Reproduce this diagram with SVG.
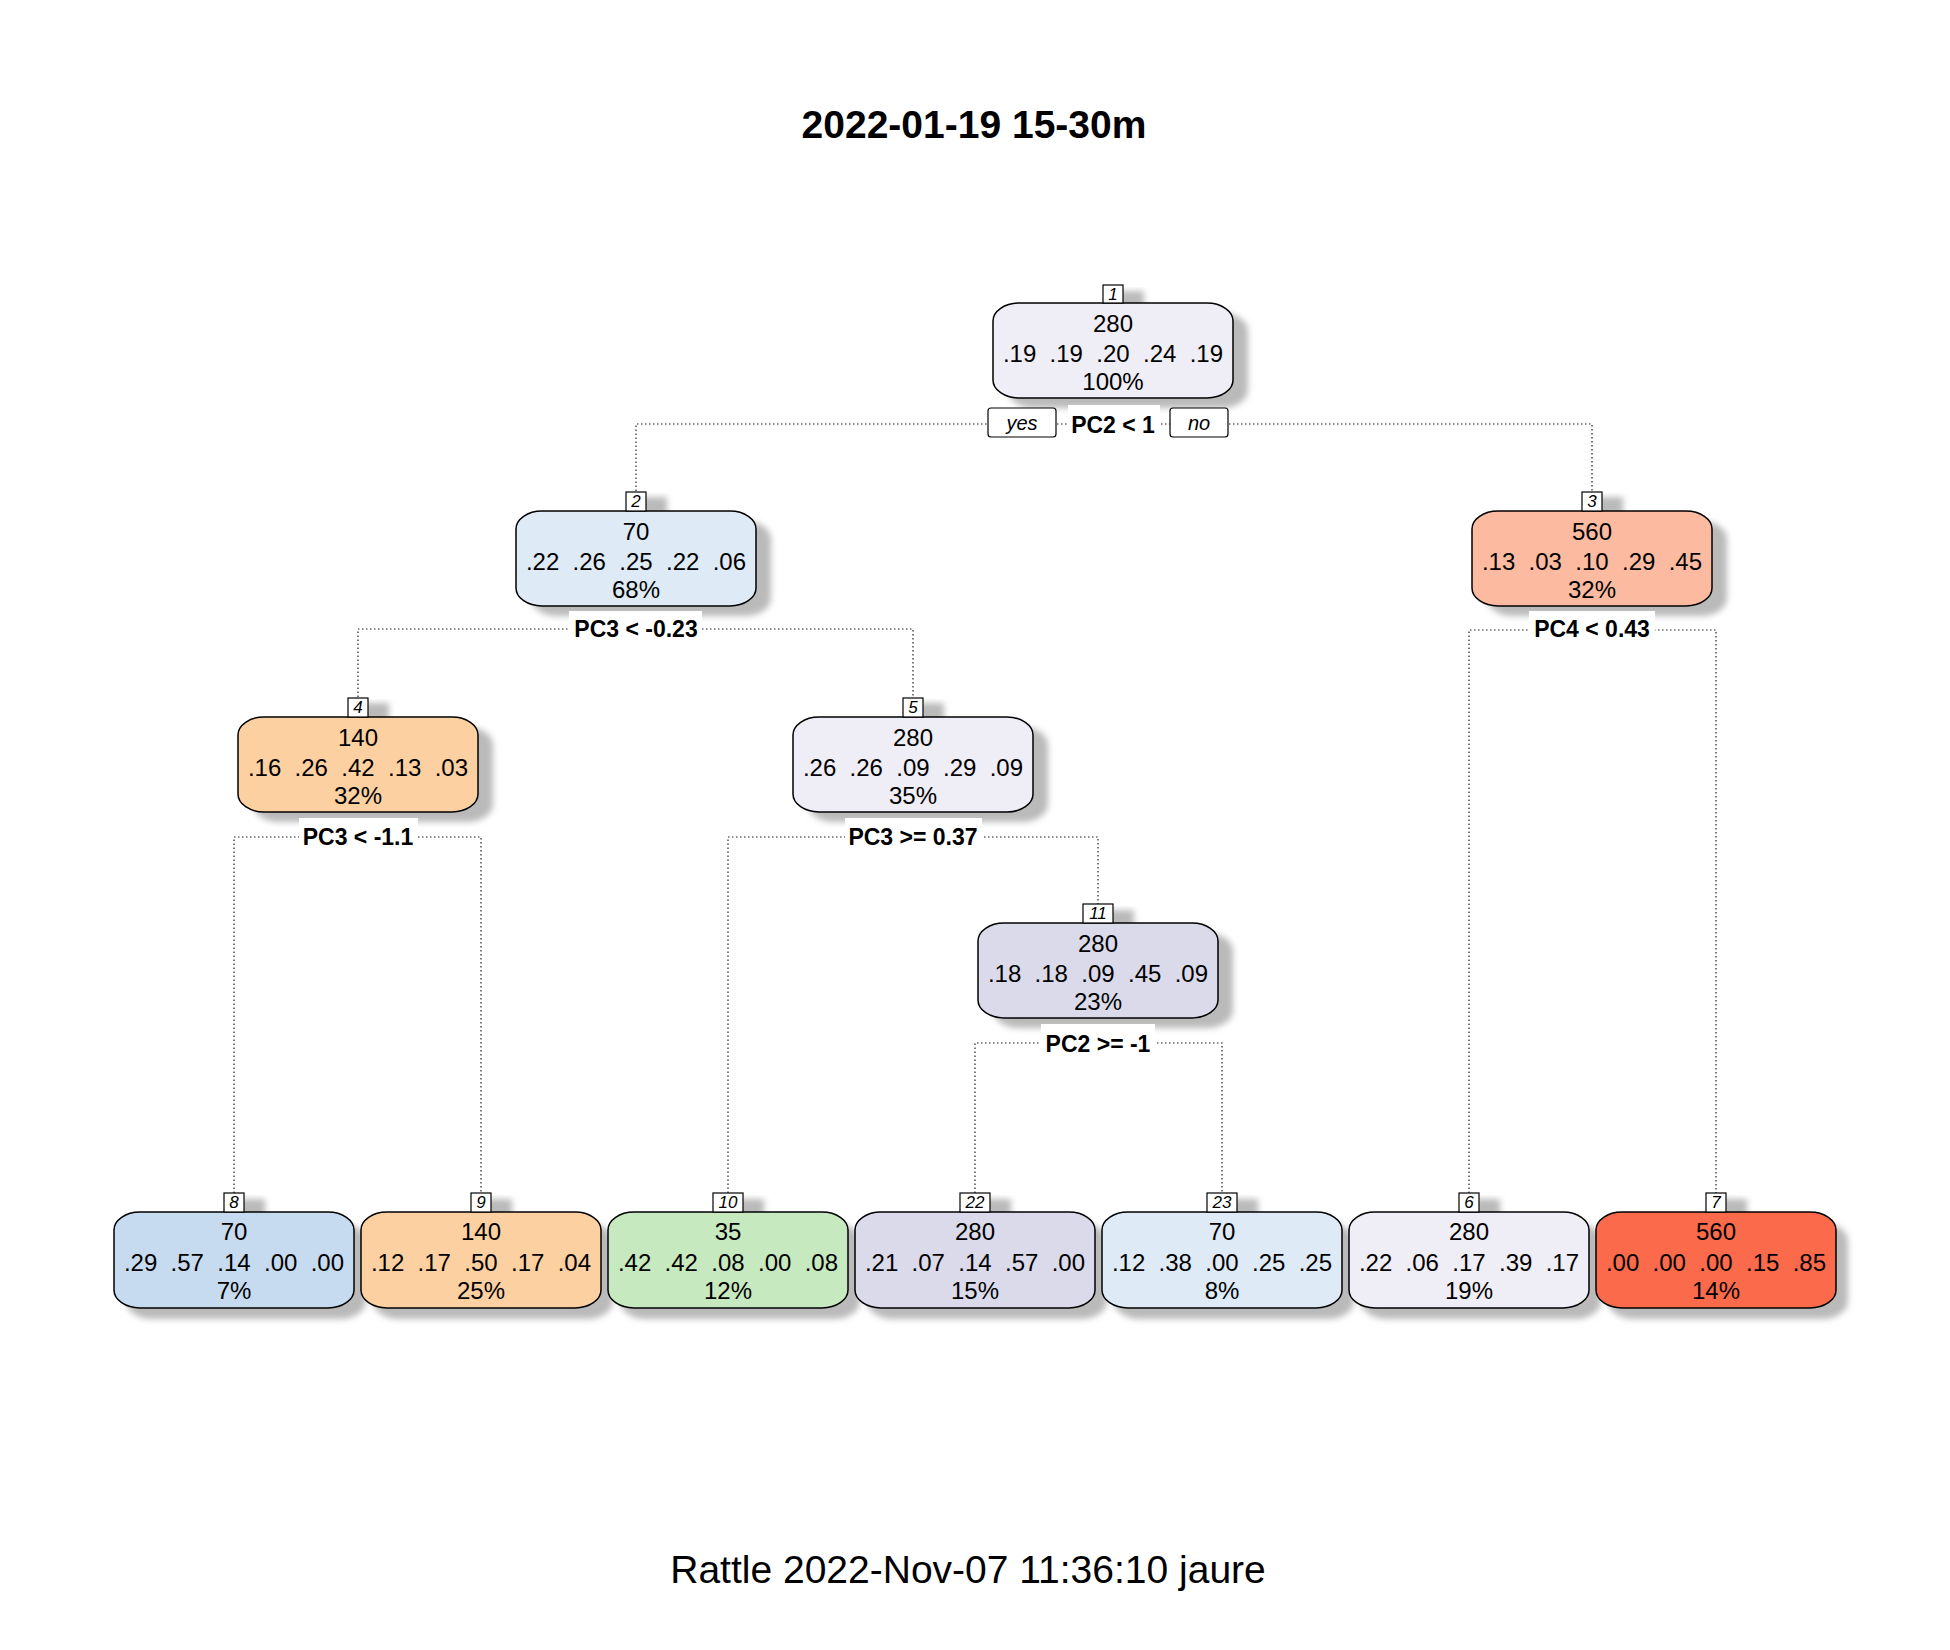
<svg xmlns="http://www.w3.org/2000/svg" width="1950" height="1650" viewBox="0 0 1950 1650">
<defs>
<filter id="blur" x="-20%" y="-20%" width="140%" height="140%"><feGaussianBlur stdDeviation="3"/></filter>
</defs>
<style>
text{font-family:"Liberation Sans",Arial,sans-serif;fill:#000}
.t{font-size:24px;text-anchor:middle;white-space:pre}
.sp{font-size:23px;font-weight:bold;text-anchor:middle}
.nl{font-size:17px;font-style:italic;text-anchor:middle}
.yn{font-size:20px;font-style:italic;text-anchor:middle}
.box{stroke:#000;stroke-width:1.5}
.lab{fill:#fff;stroke:#000;stroke-width:1.2}
.sh{fill:#bababa;filter:url(#blur)}
.bg{fill:#fff}
.con{fill:none;stroke:#222;stroke-width:1.2;stroke-dasharray:1.5 2.5}
</style>
<rect width="1950" height="1650" fill="#fff"/>
<text x="974" y="138" style="font-size:39px;font-weight:bold;text-anchor:middle">2022-01-19 15-30m</text>
<text x="968" y="1583" style="font-size:39px;text-anchor:middle">Rattle 2022-Nov-07 11:36:10 jaure</text>

<g id="connectors">
<path class="con" d="M636,491 V424 H1592 V491"/>
<path class="con" d="M358,697 V629 H913 V697"/>
<path class="con" d="M1469,1193 V630 H1716 V1193"/>
<path class="con" d="M234,1193 V837 H481 V1193"/>
<path class="con" d="M728,1193 V837 H1098 V904"/>
<path class="con" d="M975,1193 V1043 H1222 V1193"/>
</g>

<g id="node1">
<rect class="sh" x="1008" y="313" width="240" height="95" rx="26" ry="18"/>
<rect class="sh" x="1118" y="291" width="26" height="19"/>
<rect class="box" x="993" y="303" width="240" height="95" rx="26" ry="18" fill="#EFEDF5"/>
<rect class="lab" x="1103" y="285" width="20" height="18"/>
<text class="nl" x="1113" y="300">1</text>
<text class="t" x="1113" y="332">280</text>
<text class="t" x="1113" y="362">.19  .19  .20  .24  .19</text>
<text class="t" x="1113" y="390">100%</text>
<rect class="bg" x="1068" y="405" width="92" height="34"/>
<text class="sp" x="1113" y="433">PC2 &lt; 1</text>
<rect class="lab" x="988" y="408" width="68" height="29" rx="3"/>
<text class="yn" x="1022" y="430">yes</text>
<rect class="lab" x="1170" y="408" width="58" height="29" rx="3"/>
<text class="yn" x="1199" y="430">no</text>
</g>

<g id="node2">
<rect class="sh" x="531" y="521" width="240" height="95" rx="26" ry="18"/>
<rect class="sh" x="641" y="497" width="26" height="19"/>
<rect class="box" x="516" y="511" width="240" height="95" rx="26" ry="18" fill="#DEEBF7"/>
<rect class="lab" x="626" y="492" width="20" height="19"/>
<text class="nl" x="636" y="507">2</text>
<text class="t" x="636" y="540">70</text>
<text class="t" x="636" y="570">.22  .26  .25  .22  .06</text>
<text class="t" x="636" y="598">68%</text>
<rect class="bg" x="569" y="611" width="133" height="32"/>
<text class="sp" x="636" y="637">PC3 &lt; -0.23</text>
</g>

<g id="node3">
<rect class="sh" x="1487" y="521" width="240" height="95" rx="26" ry="18"/>
<rect class="sh" x="1597" y="497" width="26" height="19"/>
<rect class="box" x="1472" y="511" width="240" height="95" rx="26" ry="18" fill="#FCBBA1"/>
<rect class="lab" x="1582" y="492" width="20" height="19"/>
<text class="nl" x="1592" y="507">3</text>
<text class="t" x="1592" y="540">560</text>
<text class="t" x="1592" y="570">.13  .03  .10  .29  .45</text>
<text class="t" x="1592" y="598">32%</text>
<rect class="bg" x="1529" y="611" width="126" height="32"/>
<text class="sp" x="1592" y="637">PC4 &lt; 0.43</text>
</g>

<g id="node4">
<rect class="sh" x="253" y="727" width="240" height="95" rx="26" ry="18"/>
<rect class="sh" x="363" y="703" width="26" height="19"/>
<rect class="box" x="238" y="717" width="240" height="95" rx="26" ry="18" fill="#FDD0A2"/>
<rect class="lab" x="348" y="698" width="20" height="19"/>
<text class="nl" x="358" y="713">4</text>
<text class="t" x="358" y="746">140</text>
<text class="t" x="358" y="776">.16  .26  .42  .13  .03</text>
<text class="t" x="358" y="804">32%</text>
<rect class="bg" x="299" y="818" width="119" height="33"/>
<text class="sp" x="358" y="845">PC3 &lt; -1.1</text>
</g>

<g id="node5">
<rect class="sh" x="808" y="727" width="240" height="95" rx="26" ry="18"/>
<rect class="sh" x="918" y="703" width="26" height="19"/>
<rect class="box" x="793" y="717" width="240" height="95" rx="26" ry="18" fill="#EFEDF5"/>
<rect class="lab" x="903" y="698" width="20" height="19"/>
<text class="nl" x="913" y="713">5</text>
<text class="t" x="913" y="746">280</text>
<text class="t" x="913" y="776">.26  .26  .09  .29  .09</text>
<text class="t" x="913" y="804">35%</text>
<rect class="bg" x="845" y="818" width="137" height="33"/>
<text class="sp" x="913" y="845">PC3 &gt;= 0.37</text>
</g>

<g id="node11">
<rect class="sh" x="993" y="933" width="240" height="95" rx="26" ry="18"/>
<rect class="sh" x="1098" y="910" width="36" height="19"/>
<rect class="box" x="978" y="923" width="240" height="95" rx="26" ry="18" fill="#DADAEB"/>
<rect class="lab" x="1083" y="904" width="30" height="19"/>
<text class="nl" x="1098" y="919">11</text>
<text class="t" x="1098" y="952">280</text>
<text class="t" x="1098" y="982">.18  .18  .09  .45  .09</text>
<text class="t" x="1098" y="1010">23%</text>
<rect class="bg" x="1041" y="1024" width="114" height="34"/>
<text class="sp" x="1098" y="1052">PC2 &gt;= -1</text>
</g>

<g id="node8">
<rect class="sh" x="126" y="1223" width="240" height="96" rx="26" ry="18"/>
<rect class="sh" x="239" y="1199" width="26" height="19"/>
<rect class="box" x="114" y="1212" width="240" height="96" rx="26" ry="18" fill="#C6DBEF"/>
<rect class="lab" x="224" y="1193" width="20" height="19"/>
<text class="nl" x="234" y="1208">8</text>
<text class="t" x="234" y="1240">70</text>
<text class="t" x="234" y="1271">.29  .57  .14  .00  .00</text>
<text class="t" x="234" y="1299">7%</text>
</g>

<g id="node9">
<rect class="sh" x="373" y="1223" width="240" height="96" rx="26" ry="18"/>
<rect class="sh" x="486" y="1199" width="26" height="19"/>
<rect class="box" x="361" y="1212" width="240" height="96" rx="26" ry="18" fill="#FDD0A2"/>
<rect class="lab" x="471" y="1193" width="20" height="19"/>
<text class="nl" x="481" y="1208">9</text>
<text class="t" x="481" y="1240">140</text>
<text class="t" x="481" y="1271">.12  .17  .50  .17  .04</text>
<text class="t" x="481" y="1299">25%</text>
</g>

<g id="node10">
<rect class="sh" x="620" y="1223" width="240" height="96" rx="26" ry="18"/>
<rect class="sh" x="728" y="1199" width="36" height="19"/>
<rect class="box" x="608" y="1212" width="240" height="96" rx="26" ry="18" fill="#C7E9C0"/>
<rect class="lab" x="713" y="1193" width="30" height="19"/>
<text class="nl" x="728" y="1208">10</text>
<text class="t" x="728" y="1240">35</text>
<text class="t" x="728" y="1271">.42  .42  .08  .00  .08</text>
<text class="t" x="728" y="1299">12%</text>
</g>

<g id="node22">
<rect class="sh" x="867" y="1223" width="240" height="96" rx="26" ry="18"/>
<rect class="sh" x="975" y="1199" width="36" height="19"/>
<rect class="box" x="855" y="1212" width="240" height="96" rx="26" ry="18" fill="#DADAEB"/>
<rect class="lab" x="960" y="1193" width="30" height="19"/>
<text class="nl" x="975" y="1208">22</text>
<text class="t" x="975" y="1240">280</text>
<text class="t" x="975" y="1271">.21  .07  .14  .57  .00</text>
<text class="t" x="975" y="1299">15%</text>
</g>

<g id="node23">
<rect class="sh" x="1114" y="1223" width="240" height="96" rx="26" ry="18"/>
<rect class="sh" x="1222" y="1199" width="36" height="19"/>
<rect class="box" x="1102" y="1212" width="240" height="96" rx="26" ry="18" fill="#DEEBF7"/>
<rect class="lab" x="1207" y="1193" width="30" height="19"/>
<text class="nl" x="1222" y="1208">23</text>
<text class="t" x="1222" y="1240">70</text>
<text class="t" x="1222" y="1271">.12  .38  .00  .25  .25</text>
<text class="t" x="1222" y="1299">8%</text>
</g>

<g id="node6">
<rect class="sh" x="1361" y="1223" width="240" height="96" rx="26" ry="18"/>
<rect class="sh" x="1474" y="1199" width="26" height="19"/>
<rect class="box" x="1349" y="1212" width="240" height="96" rx="26" ry="18" fill="#EFEDF5"/>
<rect class="lab" x="1459" y="1193" width="20" height="19"/>
<text class="nl" x="1469" y="1208">6</text>
<text class="t" x="1469" y="1240">280</text>
<text class="t" x="1469" y="1271">.22  .06  .17  .39  .17</text>
<text class="t" x="1469" y="1299">19%</text>
</g>

<g id="node7">
<rect class="sh" x="1608" y="1223" width="240" height="96" rx="26" ry="18"/>
<rect class="sh" x="1721" y="1199" width="26" height="19"/>
<rect class="box" x="1596" y="1212" width="240" height="96" rx="26" ry="18" fill="#FB6A4A"/>
<rect class="lab" x="1706" y="1193" width="20" height="19"/>
<text class="nl" x="1716" y="1208">7</text>
<text class="t" x="1716" y="1240">560</text>
<text class="t" x="1716" y="1271">.00  .00  .00  .15  .85</text>
<text class="t" x="1716" y="1299">14%</text>
</g>
</svg>
